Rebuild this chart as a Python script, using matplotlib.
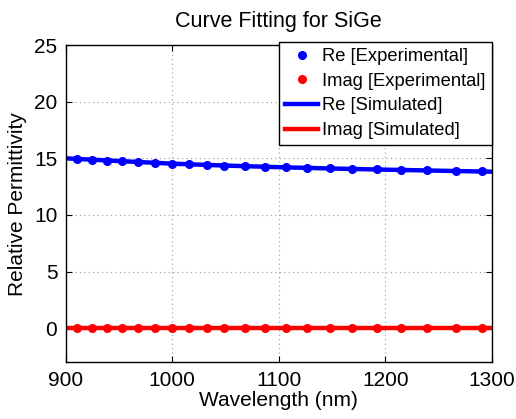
import numpy as np
import matplotlib
matplotlib.use("Agg")
from matplotlib import pyplot as plt

plt.rcParams['font.family'] = ['Liberation Sans', 'DejaVu Sans']

wl_exp = [911, 925, 939, 953, 968, 984, 1000, 1016, 1033, 1049, 1068,
          1087, 1107, 1127, 1148, 1169, 1192, 1215, 1239, 1266, 1291]
re_exp = [14.94, 14.88, 14.80, 14.75, 14.67, 14.60, 14.53, 14.47, 14.41, 14.36, 14.30,
          14.25, 14.20, 14.15, 14.11, 14.07, 14.02, 13.97, 13.93, 13.89, 13.85]
im_exp = [0.05] * len(wl_exp)

# Courbes simulées
wl_sim = [900, 950, 1000, 1050, 1100, 1150, 1200, 1250, 1300]
re_sim = [15.0, 14.76, 14.53, 14.36, 14.22, 14.10, 14.00, 13.91, 13.82]
im_sim = [0.05] * len(wl_sim)

fig = plt.figure(figsize=(5.16, 4.19), dpi=100)
ax = fig.add_axes([0.1273, 0.1353, 0.8257, 0.7573])

ax.plot(wl_sim, re_sim, color="blue", linewidth=3.2, label="Re [Simulated]", zorder=2)
ax.plot(wl_sim, im_sim, color="red", linewidth=3.2, label="Imag [Simulated]", zorder=2)
ax.plot(wl_exp, re_exp, linestyle="none", marker="o", markersize=5.5, color="blue",
        label="Re [Experimental]", zorder=3)
ax.plot(wl_exp, im_exp, linestyle="none", marker="o", markersize=5.5, color="red",
        label="Imag [Experimental]", zorder=3)

ax.set_xlim(900, 1300)
ax.set_ylim(-3, 25)
ax.set_xticks([900, 1000, 1100, 1200, 1300])
ax.set_yticks([0, 5, 10, 15, 20, 25])
ax.tick_params(direction="in", top=True, right=True, length=4, labelsize=15, pad=6)
for s in ax.spines.values():
    s.set_linewidth(1)
ax.grid(True, color="#999999", linestyle=(0, (1, 3)), linewidth=0.8)

ax.set_title("Curve Fitting for SiGe", fontsize=15.5, pad=13)
ax.set_xlabel("Wavelength (nm)", fontsize=15, labelpad=1)
ax.set_ylabel("Relative Permittivity", fontsize=15, labelpad=5)

h, l = ax.get_legend_handles_labels()
order = [2, 3, 0, 1]
leg = ax.legend([h[i] for i in order], [l[i] for i in order], loc="upper right",
                bbox_to_anchor=(1.0, 1.011), borderaxespad=0, fontsize=13.2,
                fancybox=False, framealpha=1, edgecolor="black", handlelength=1.8,
                handletextpad=0.2, labelspacing=0.42, borderpad=0.35)
leg.get_frame().set_linewidth(1)

fig.savefig("out.png", dpi=100)
